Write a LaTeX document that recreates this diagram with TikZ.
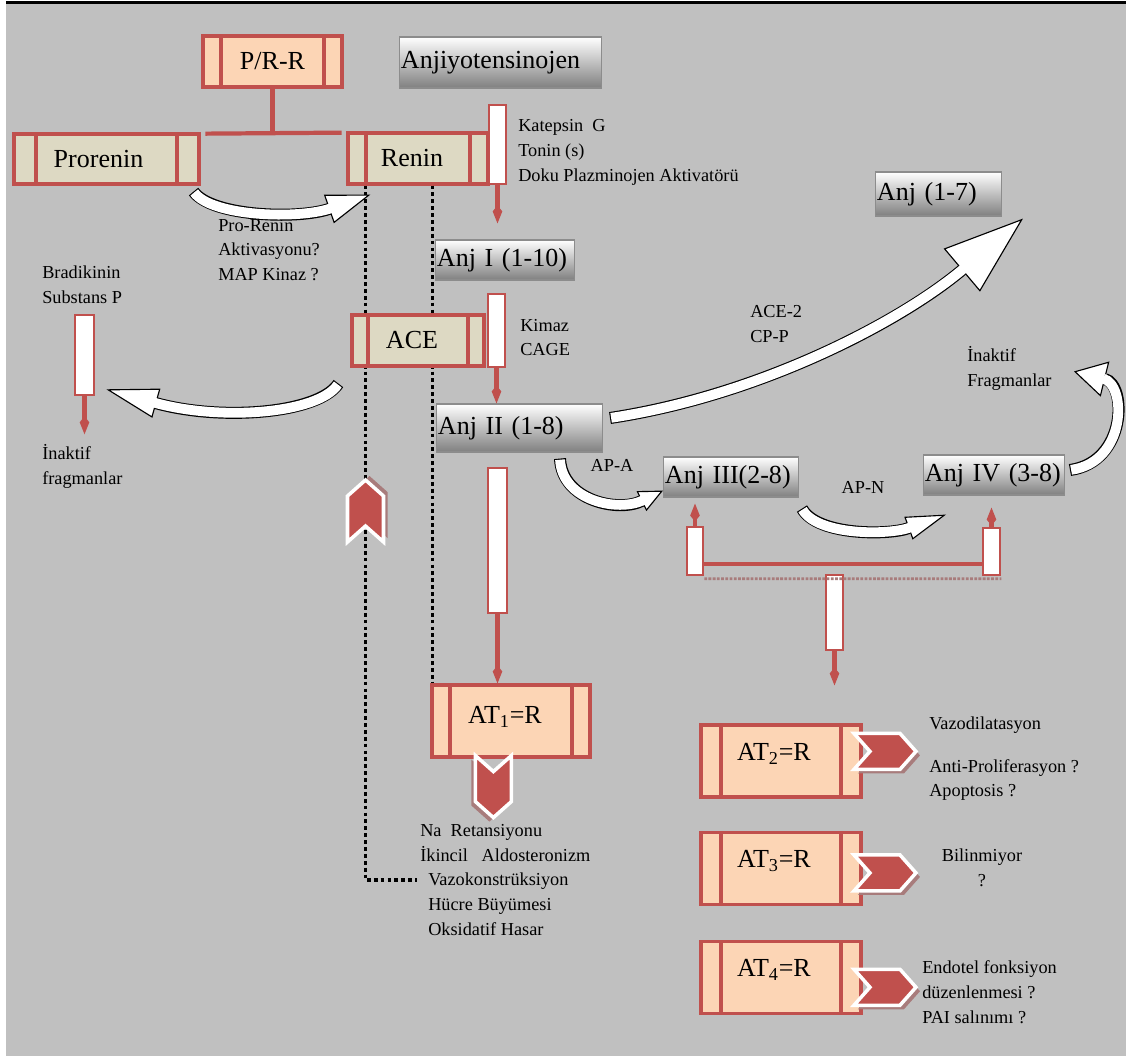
\documentclass[tikz,border=0pt]{standalone}
\usepackage{fontspec}
\setmainfont{Liberation Serif}
\usepackage{tikz}
\usetikzlibrary{positioning,arrows.meta,calc}

\definecolor{bggray}{HTML}{C0C0C0}
\definecolor{boxred}{HTML}{C0504D}
\definecolor{peach}{HTML}{FCD5B5}
\definecolor{beige}{HTML}{DDD9C3}
\definecolor{shadowred}{HTML}{A87C7C}
\newcommand{\boxfont}{\fontsize{18.5}{21}\selectfont}
\newcommand{\notefont}{\fontsize{13}{17.7}\selectfont}

\begin{document}
\begin{tikzpicture}[x=0.025cm, y=-0.025cm,
  recbox/.style={draw=boxred, line width=2.2pt, minimum height=1.275cm, inner sep=0pt, font=\boxfont,
    path picture={\draw[boxred, line width=2.2pt]
      ([xshift=#1]path picture bounding box.north west) -- ([xshift=#1]path picture bounding box.south west)
      ([xshift=-#1]path picture bounding box.north east) -- ([xshift=-#1]path picture bounding box.south east);}},
  recbox/.default=0.45cm,
  atbox/.style={recbox=0.5cm, fill=peach, minimum width=4cm, minimum height=1.8cm, text depth=0.45cm},
  graybox/.style={draw=black!45, line width=0.8pt, top color=white, bottom color=black!50,
    inner xsep=1pt, inner ysep=0pt, align=left, font=\boxfont},
  penbody/.style={draw=boxred, line width=1.8pt, fill=white, minimum width=0.425cm, inner sep=0pt},
  penstem/.style={boxred, line width=3pt, -{Kite[length=0.45cm, width=0.24cm, inset=0.15cm]}},
  redline/.style={boxred, line width=3pt},
  dotline/.style={black, line width=2.7pt, dash pattern=on 2.7pt off 2.2pt},
  notes/.style={font=\notefont, align=left, anchor=west, inner sep=0pt},
  band/.style 2 args={line width=0.3cm, -{Triangle[length=#1, width=#2, fill=white, line width'=0.8pt]}},
  bandin/.style={white, line width=0.245cm, shorten <=0.8pt, shorten >=#1},
  chev/.pic={
    \fill[shadowred] (-27,-14) -- (19,-14) -- (35,4) -- (19,22) -- (-27,22) -- (-11,4) -- cycle;
    \draw[white, line width=2.5pt, fill=boxred, line join=miter]
      (-31,-18) -- (15,-18) -- (31,0) -- (15,18) -- (-31,18) -- (-15,0) -- cycle;}]
\useasboundingbox (0,0) rectangle (1126,1061);
\fill[white] (0,0) rectangle (1126,1061);
\fill[bggray] (6,3) rectangle (1126,1056);
\draw[black, line width=1.5pt] (6,2.5) -- (1126,2.5);

% receptor / renin boxes
\node[recbox, fill=peach, minimum width=3.475cm] (prr) at (272.5,61.5) {P/R-R};
\node[recbox=0.55cm, fill=beige, minimum width=4.625cm, minimum height=1.25cm] (prorenin) at (106.5,159) {Prorenin\kern0.4cm};
\node[recbox, fill=beige, minimum width=3.5cm] (renin) at (418,158.5) {Renin\kern0.3cm};
\draw[redline] (prr.south) -- (prr.south |- prorenin.north);
\draw[redline] ([xshift=0.12cm, yshift=-0.03cm]prorenin.north east) -- ([xshift=-0.12cm, yshift=-0.03cm]renin.north west);

% peptides
\node[graybox, text width=4.975cm, minimum height=1.275cm] (anjiyo) at (500.5,62.5) {Anjiyotensinojen};
\node[graybox, text width=3.4cm, minimum height=1cm] (anj1) at (505,260) {Anj I (1-10)};
\node[graybox, text width=4.075cm, minimum height=1.2cm] (anj2) at (519.5,428) {Anj II (1-8)};
\node[graybox, text width=3.3cm, minimum height=1cm] (anj3) at (731,477) {Anj III(2-8)};
\node[graybox, text width=3.45cm, minimum height=1cm] (anj4) at (994,475) {\mbox{Anj IV (3-8)}};
\node[graybox, text width=3.075cm, minimum height=1.1cm] (anj17) at (938.5,194) {Anj (1-7)};

% AT receptors
\node[recbox, fill=peach, minimum width=3.95cm, minimum height=1.8cm, text depth=0.3cm] (at1) at (511,721) {AT\textsubscript{1}=R\kern0.3cm};
\node[atbox] (at2) at (781,761) {AT\textsubscript{2}=R\kern0.35cm};
\node[atbox, below=0.8cm of at2] (at3) {AT\textsubscript{3}=R\kern0.35cm};
\node[atbox, below=0.85cm of at3] (at4) {AT\textsubscript{4}=R\kern0.35cm};

% notes
\node[notes] (katlist) at (518,152) {Katepsin\ \ G\\Tonin (s)\\Doku Plazminojen Aktivatörü};
\node[notes] (kimlist) at (520,337.5) {Kimaz\\CAGE};
\node[notes] (prolist) at (218,250) {Pro-Renin\\Aktivasyonu?\\MAP Kinaz ?};
\node[notes] (bralist) at (42,285) {Bradikinin\\Substans P};
\node[notes] (inakl) at (42,466) {İnaktif\\fragmanlar};
\node[notes] (acelist) at (750,324) {ACE-2\\CP-P};
\node[notes] (inakr) at (967,368.5) {İnaktif\\Fragmanlar};
\node[notes, anchor=center] (apa) at (612,465) {AP-A};
\node[notes, anchor=center] (apn) at (863,487) {AP-N};
\node[notes] (eff) at (420,880) {Na\ \ Retansiyonu\\İkincil\ \ \ Aldosteronizm\\\hspace*{0.2cm}Vazokonstrüksiyon\\\hspace*{0.2cm}Hücre Büyümesi\\\hspace*{0.2cm}Oksidatif Hasar};
\node[notes] (vazodil) at (929,725) {Vazodilatasyon};
\node[notes] (antipro) at (929,780) {Anti-Proliferasyon ?\\Apoptosis ?};
\node[notes, anchor=center, align=center] (bilin) at (982,867.5) {Bilinmiyor\\?};
\node[notes] (endo) at (922,992) {Endotel fonksiyon\\düzenlenmesi ?\\PAI salınımı ?};

% dotted feedback lines
\draw[dotline] ($(renin.south west)+(19,0)$) coordinate (dl) -- (dl |- eff.west) -- ([xshift=-0.08cm]eff.west);
\draw[dotline] ($(renin.south west)+(86,0)$) coordinate (dr) -- (dr |- at1.north);
\node[recbox=0.4cm, fill=beige, minimum width=3.3cm] (ace) at (418,340.5) {ACE\kern0.3cm};

% pen arrows
\node[penbody, minimum height=1.975cm] (katpen) at (497.5,144.5) {};
\node[penbody, minimum height=1.825cm] (kimpen) at (496.5,330.5) {};
\node[penbody, minimum width=0.475cm, minimum height=3.625cm] (at1pen) at (497.5,540.5) {};
\node[penbody, minimum width=0.475cm, minimum height=2cm] (brapen) at (84.5,355) {};
\node[penbody, minimum width=0.4cm, minimum height=1.2cm] (a3pen) at (695,551) {};
\node[penbody, minimum height=1.175cm] (a4pen) at (991.5,551.5) {};
\node[penbody, minimum height=1.875cm] (dnpen) at (834.5,612.5) {};
\draw[penstem, shorten >=0.4cm] (katpen.south) -- (katpen.south |- anj1.north);
\draw[penstem] (kimpen.south) -- (kimpen.south |- anj2.north);
\draw[penstem] (at1pen.south) -- (at1pen.south |- at1.north);
\draw[penstem] (brapen.south) -- ++(0,38);
\draw[penstem, shorten >=0.15cm] (a3pen.north) -- (a3pen.north |- anj3.south);
\draw[penstem, shorten >=0.3cm] (a4pen.north) -- (a4pen.north |- anj4.south);
\draw[penstem, shorten >=0.95cm] (dnpen.south) -- (dnpen.south |- at2.north);
\draw[redline] ([yshift=-0.33cm]a3pen.east) coordinate (barl) -- (barl -| a4pen.west);
\draw[shadowred, line width=2pt, densely dotted] ([yshift=-0.06cm]a3pen.south east) -- ([yshift=-0.06cm]a4pen.south east);

% curved block arrows
\draw[band={1.1cm}{0.75cm}] ([shift={(-7,6)}]prorenin.south east) .. controls +(18,25) and +(-72,25) .. ([shift={(24,9)}]renin.south west);
\draw[bandin=1.05cm] ([shift={(-7,6)}]prorenin.south east) .. controls +(18,25) and +(-72,25) .. ([shift={(24,9)}]renin.south west);
\draw[band={1.3cm}{0.75cm}] ([shift={(-12,16)}]ace.south west) .. controls +(-20,30) and +(115,32) .. ([shift={(11,-7)}]brapen.south east);
\draw[bandin=1.25cm] ([shift={(-12,16)}]ace.south west) .. controls +(-20,30) and +(115,32) .. ([shift={(11,-7)}]brapen.south east);
\draw[band={2cm}{1.4cm}] ([shift={(7,-10)}]anj2.east) .. controls +(152,-23) and +(-121,102) .. ([shift={(21,2)}]anj17.south east);
\draw[bandin=1.95cm] ([shift={(7,-10)}]anj2.east) .. controls +(152,-23) and +(-121,102) .. ([shift={(21,2)}]anj17.south east);
\draw[band={0.6cm}{0.55cm}] ([shift={(-43,6)}]anj2.south east) .. controls +(2,42) and +(-45,22) .. ([shift={(0,-7)}]anj3.south west);
\draw[bandin=0.55cm] ([shift={(-43,6)}]anj2.south east) .. controls +(2,42) and +(-45,22) .. ([shift={(0,-7)}]anj3.south west);
\draw[band={1cm}{0.6cm}] ([shift={(3,11)}]anj3.south east) .. controls +(15,27) and +(-58,21) .. ([shift={(23,19)}]anj4.south west);
\draw[bandin=0.95cm] ([shift={(3,11)}]anj3.south east) .. controls +(15,27) and +(-58,21) .. ([shift={(23,19)}]anj4.south west);
\draw[band={0.8cm}{0.9cm}] ([shift={(5,-5)}]anj4.east) .. controls +(57,-8) and +(53,13) .. ([shift={(9,-83)}]anj4.north east);
\draw[bandin=0.75cm] ([shift={(5,-5)}]anj4.east) .. controls +(57,-8) and +(53,13) .. ([shift={(9,-83)}]anj4.north east);

% chevrons
\pic[rotate=90] at (365.5,511) {chev};
\pic[rotate=-90] at ([xshift=-0.44cm, yshift=-0.7cm]at1.south) {chev};
\pic at ([xshift=0.56cm, yshift=0.24cm]at2.east) {chev};
\pic at ([xshift=0.56cm, yshift=-0.12cm]at3.east) {chev};
\pic at ([xshift=0.56cm, yshift=-0.25cm]at4.east) {chev};
\end{tikzpicture}
\end{document}
